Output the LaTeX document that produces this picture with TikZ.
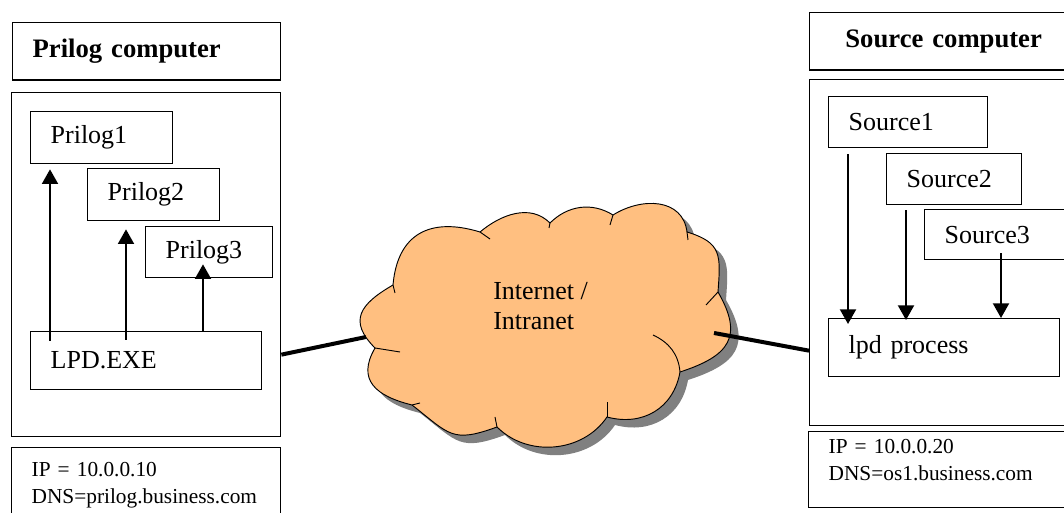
\documentclass[tikz,border=0pt]{standalone}
\usepackage{fontspec}
\setmainfont{Liberation Serif}
\usetikzlibrary{arrows.meta,shadows}
\definecolor{cloudorange}{RGB}{255,191,128}

\begin{document}
\begin{tikzpicture}[x=0.75pt, y=0.75pt, font=\fontsize{19.5}{23}\selectfont]

    % Styles
    \tikzstyle{box} = [draw=black, line width=1pt, anchor=north west, inner xsep=15pt, inner ysep=0pt, align=left]
    \tikzstyle{frame} = [draw=black, line width=1pt, anchor=north west, inner sep=0pt]
    \tikzstyle{title} = [box, font=\fontsize{20}{24}\selectfont\bfseries, minimum height=43pt]
    \tikzstyle{addr} = [box, font=\fontsize{16}{20.25}\selectfont, minimum height=57pt]
    \tikzstyle{flow} = [-{Triangle[width=12pt,length=11pt]}, line width=1.5pt]
    \tikzstyle{link} = [line width=3pt]

    \useasboundingbox (0,0) rectangle (1064,513);

    % Prilog computer (left)
    \node[title, text width=171pt] (ptitle) at (12,491) {Prilog computer};
    \node[frame, minimum width=201.75pt, minimum height=258pt] (leftpc) at (11,421) {};
    \node[box, text width=76.5pt, minimum height=39pt] (p1) at (30,402) {Prilog1};
    \node[box, text width=69pt, minimum height=39pt] (p2) at (87,345) {Prilog2};
    \node[box, text width=65.25pt, minimum height=38.25pt] (p3) at (145,287) {Prilog3};
    \node[box, text width=143.25pt, minimum height=43.5pt] (lpd) at (30,182) {LPD.EXE};
    \node[addr, text width=171.75pt] (ipl) at (11,66) {IP = 10.0.0.10\\DNS=prilog.business.com};

    % LPD.EXE up to the Prilog processes
    \draw[flow] ([xshift=15pt,yshift=-7.5pt]lpd.north west) -- ([xshift=15pt,yshift=-3.75pt]p1.south west);
    \draw[flow] ([xshift=72pt,yshift=-6.75pt]lpd.north west) -- ([xshift=29.25pt,yshift=-6pt]p2.south west);
    \draw[flow] ([xshift=129.75pt]lpd.north west) -- ([xshift=43.5pt,yshift=10.5pt]p3.south west);

    % Source computer (right)
    \node[title, align=center, text width=171pt] (stitle) at (809,501) {Source computer};
    \node[frame, minimum width=195.75pt, minimum height=259.5pt] (rightpc) at (809,434) {};
    \node[box, text width=89.25pt, minimum height=38.25pt] (s1) at (828,417) {Source1};
    \node[box, text width=71.25pt, minimum height=38.25pt] (s2) at (886,360) {Source2};
    \node[box, text width=79.5pt, minimum height=37.5pt] (s3) at (924,304) {Source3};
    \node[box, text width=143.25pt, minimum height=43.5pt] (lpdp) at (828,195) {lpd process};
    \node[addr, text width=166.5pt, text depth=35pt] (ipr) at (808,82) {IP = 10.0.0.20\\DNS=os1.business.com};

    % Sources down to the lpd process
    \draw[flow] ([xshift=15pt,yshift=-4.5pt]s1.south west) -- ([xshift=15pt,yshift=-4.5pt]lpdp.north west);
    \draw[flow] ([xshift=15pt,yshift=-3.75pt]s2.south west) -- ([xshift=58.5pt,yshift=-1.5pt]lpdp.north west);
    \draw[flow] ([xshift=57.75pt,yshift=5.25pt]s3.south west) -- ([xshift=129.75pt]lpdp.north west);

    % Internet cloud
    \draw[line width=0.7pt, fill=cloudorange, drop shadow={shadow xshift=6pt, shadow yshift=-6pt, fill=gray, opacity=1}]
      (393,228) coordinate (cA)
      to[out=85, in=163, looseness=1.3] (480,281) coordinate (cB)
      to[out=40, in=135] (550,290) coordinate (cC)
      to[out=45, in=148] (613,298) coordinate (cD)
      to[out=32, in=97, looseness=1.15] (687,281) coordinate (cE)
      to[out=-17, in=86, looseness=1.4] (718,221) coordinate (cF)
      to[out=-60, in=18, looseness=1.5] (680,141) coordinate (cG)
      to[out=-100, in=-15, looseness=1.1] (607,96) coordinate (cH)
      to[out=-124, in=-45] (497,86) coordinate (cI)
      to[out=200, in=-38, looseness=1.4] (412,108) coordinate (cJ)
      to[out=166, in=-120, looseness=1.4] (375,165) coordinate (cK)
      to[out=135, in=210, looseness=1.5] (393,228) -- cycle;
    \draw[line width=0.7pt] (cA) -- ++(2,-8);
    \draw[line width=0.7pt] (cB) -- ++(10,-7);
    \draw[line width=0.7pt] (cC) -- ++(-1,-5);
    \draw[line width=0.7pt] (cD) -- ++(-3,-10);
    \draw[line width=0.7pt] (cE) -- ++(1,-8);
    \draw[line width=0.7pt] (cF) -- ++(-12,-13);
    \draw[line width=0.7pt] (cG) to[out=95, in=-25] ++(-27,37);
    \draw[line width=0.7pt] (cH) -- ++(0,15);
    \draw[line width=0.7pt] (cI) -- ++(-2,10);
    \draw[line width=0.7pt] (cJ) -- ++(8,2);
    \draw[line width=0.7pt] (cK) -- ++(25,-4);
    \node[align=left, anchor=west, inner sep=0pt] (net) at (493,207) {Internet /\\Intranet};

    % Network links
    \coordinate (netW) at (366,176);
    \coordinate (netE) at (714,180);
    \draw[link] ([yshift=-67.5pt]leftpc.east) -- (netW);
    \draw[link] (netE) -- ([yshift=-73.5pt]rightpc.west);

\end{tikzpicture}
\end{document}
